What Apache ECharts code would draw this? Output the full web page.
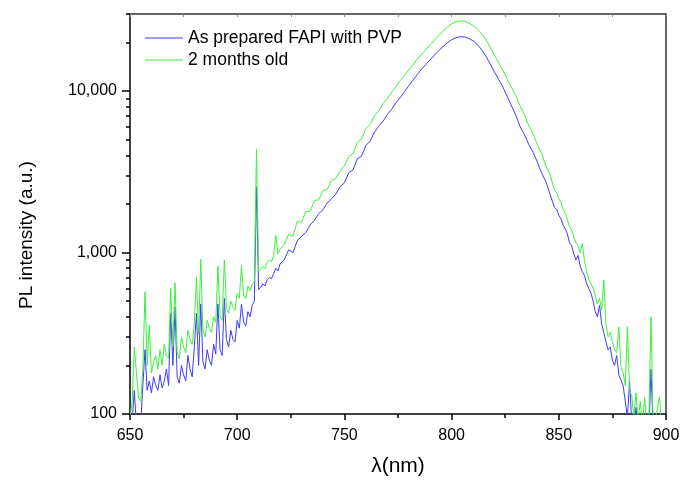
<!DOCTYPE html>
<html>
<head>
<meta charset="utf-8">
<script src="https://cdn.jsdelivr.net/npm/echarts@6/dist/echarts.min.js"></script>
<style>
html,body{margin:0;padding:0;background:#fff;}
#chart{width:683px;height:482px;}
</style>
</head>
<body>
<div id="chart"></div>
<script>
// Wavelength (nm)
var wavelength = [
650,651,652,653,654,655,656,657,658,659,
660,661,662,663,664,665,666,667,668,669,
670,671,672,673,674,675,676,677,678,679,
680,681,682,683,684,685,686,687,688,689,
690,691,692,693,694,695,696,697,698,699,
700,701,702,703,704,705,706,707,708,709,
710,711,712,713,714,715,716,717,718,719,
720,
722,724,726,728,730,732,734,736,738,740,
742,744,746,748,750,752,754,756,758,760,
762,764,766,768,770,772,774,776,778,780,
782,784,786,788,790,792,794,796,798,800,
802,804,806,808,810,812,814,816,818,820,
822,824,826,828,830,832,834,836,838,840,
842,844,846,
847,848,849,850,851,852,853,854,855,856,
857,858,859,860,861,862,863,864,865,866,
867,868,869,870,871,872,873,874,875,876,
877,878,879,880,881,882,883,884,885,886,
887,888,889,890,891,892,893,894,895,896,
897,898,899,900
];
// As prepared FAPI with PVP
var fresh = [
95,90,140,85,92,88,150,250,140,160,
135,170,150,140,175,145,160,190,150,420,
200,460,170,155,200,175,160,230,190,170,
260,420,200,480,210,190,250,215,200,270,
235,480,250,230,520,290,260,330,290,280,
380,340,480,370,350,430,400,470,500,2550,
590,610,640,620,680,700,690,740,800,770,
850,
905,1040,1000,1180,1260,1330,1480,1580,1740,1840,
2030,2150,2300,2560,2700,3120,3250,3800,3950,4600,
4900,5560,6050,6500,7150,7700,8450,9100,9910,10750,
11670,12650,13680,14620,15630,16680,17830,18840,19910,20800,
21380,21700,21650,21150,20500,19410,18030,16440,14720,13120,
11750,10540,9226,8072,7063,6000,5358,4667,4180,3631,
3100,2750,2280,
2080,1900,1850,1700,1620,1480,1400,1300,1150,1100,
980,900,960,820,760,720,640,600,560,500,
430,400,470,360,320,280,250,260,215,200,
230,175,162,150,120,95,160,90,80,110,
85,80,75,85,80,75,190,80,70,70,
70,70,70,70
];
// 2 months old
var aged = [
95,120,260,180,125,120,190,572,200,355,
180,210,230,190,250,200,270,230,220,600,
260,650,240,220,300,260,240,330,290,270,
360,705,310,910,330,300,380,340,320,400,
370,825,400,380,900,450,420,500,460,440,
560,520,835,540,520,620,580,640,660,4375,
761,790,820,800,870,900,880,960,1280,980,
1050,
1122,1300,1260,1560,1540,1800,1800,2100,2120,2420,
2460,2800,2880,3192,3450,3920,4100,4800,5050,5850,
6200,7015,7550,8350,8950,9850,10600,11590,12470,13490,
14550,15740,16940,18110,19360,20650,22080,23440,24890,26120,
26790,27230,27100,26420,25470,24270,22700,20840,18750,16670,
14890,13370,11830,10500,9354,8050,7129,6100,5450,4656,
4100,3420,3034,
2700,2450,2350,2150,2050,1850,1750,1600,1450,1380,
1250,1150,1100,1000,1140,880,760,680,640,600,
540,480,520,440,676,360,300,320,280,250,
240,347,196,180,150,347,140,130,95,135,
90,120,85,126,90,95,400,90,85,110,
128,80,75,70
];
var seriesNames = ['As prepared FAPI with PVP', '2 months old'];
var yMajor = [100, 1000, 10000];
var yMinor = [200,300,400,500,600,700,800,900,2000,3000,4000,5000,6000,7000,8000,9000,20000,30000];

function pairs(xs, ys){ var out=[]; for(var i=0;i<xs.length;i++) out.push([xs[i], ys[i]]); return out; }

var chart = echarts.init(document.getElementById('chart'), null, {renderer:'canvas'});
var FONT = 'Liberation Sans, Arial, sans-serif';
chart.setOption({
  animation: false,
  backgroundColor: '#fff',
  grid: {left:130, right:17, top:14, bottom:68, containLabel:false},
  legend: {
    orient:'vertical', left:140, top:24, itemWidth:38, itemHeight:1, itemGap:4,
    icon:'rect',
    data: seriesNames,
    textStyle:{fontFamily:FONT, fontSize:17.5, color:'#000'}
  },
  xAxis: [{
    type:'value', min:650, max:900, interval:50, position:'bottom',
    name:'λ(nm)', nameLocation:'middle', nameGap:42,
    nameTextStyle:{fontFamily:FONT, fontSize:21, color:'#000'},
    axisLine:{show:true, onZero:false, lineStyle:{color:'#000', width:1.5}},
    axisTick:{show:true, inside:false, length:6, lineStyle:{color:'#000', width:1.5}},
    minorTick:{show:true, splitNumber:2, length:4, lineStyle:{color:'#000', width:1.5}},
    axisLabel:{fontFamily:FONT, fontSize:16, color:'#000', margin:14},
    splitLine:{show:false}
  },{
    type:'value', min:650, max:900, interval:25, position:'top',
    axisLine:{show:true, onZero:false, lineStyle:{color:'#333', width:1.5}},
    axisTick:{show:true, inside:true, length:3, lineStyle:{color:'#888', width:1}},
    axisLabel:{show:false}, splitLine:{show:false}
  }],
  yAxis: [{
    type:'log', logBase:10, min:100, max:30000, position:'left',
    name:'PL intensity (a.u.)', nameLocation:'middle', nameGap:94,
    nameTextStyle:{fontFamily:FONT, fontSize:19, color:'#000', padding:[0,42,0,0]},
    axisLine:{show:true, onZero:false, lineStyle:{color:'#000', width:1.5}},
    axisTick:{show:true, inside:false, length:8, customValues:yMajor, lineStyle:{color:'#000', width:1.5}},
    axisLabel:{fontFamily:FONT, fontSize:16, color:'#000', margin:13, customValues:yMajor,
      formatter:function(v){ return Number(v).toLocaleString('en-US'); }},
    splitLine:{show:false}
  },{
    type:'log', logBase:10, min:100, max:30000, position:'left',
    axisLine:{show:false},
    axisTick:{show:true, inside:false, length:4, customValues:yMinor, lineStyle:{color:'#000', width:1.5}},
    axisLabel:{show:false}, splitLine:{show:false}
  },{
    type:'log', logBase:10, min:100, max:30000, position:'right',
    axisLine:{show:true, onZero:false, lineStyle:{color:'#333', width:1.5}},
    axisTick:{show:false}, axisLabel:{show:false}, splitLine:{show:false}
  }],
  series: [{
    name: seriesNames[0], type:'line', xAxisIndex:0, yAxisIndex:0,
    data: pairs(wavelength, fresh), showSymbol:false, symbol:'none', clip:true,
    lineStyle:{color:'#3c3cff', width:1}, itemStyle:{color:'#3c3cff'}
  },{
    name: seriesNames[1], type:'line', xAxisIndex:0, yAxisIndex:0,
    data: pairs(wavelength, aged), showSymbol:false, symbol:'none', clip:true,
    lineStyle:{color:'#3cf03c', width:1}, itemStyle:{color:'#3cf03c'}
  }]
});
</script>
</body>
</html>
